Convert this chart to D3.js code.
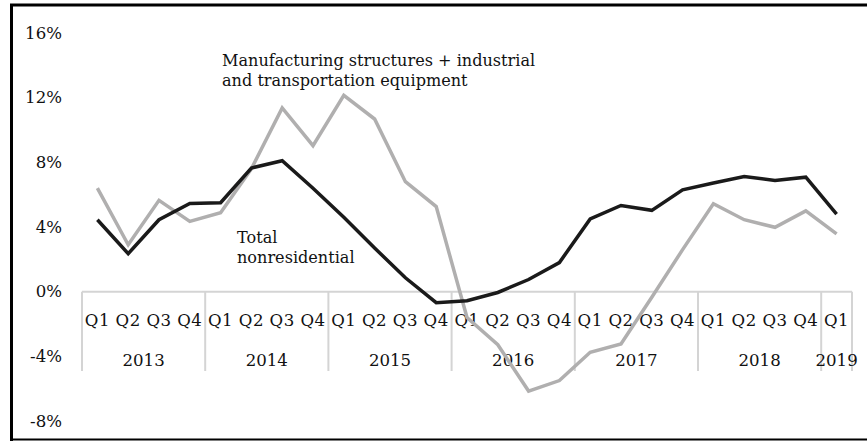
<!DOCTYPE html>
<html><head><meta charset="utf-8">
<script src="https://cdn.jsdelivr.net/npm/d3@7"></script>
<style>body{margin:0;background:#fff}svg{display:block}text{font-family:"DejaVu Serif","Liberation Serif",serif;fill:#111}</style>
</head><body><svg id="c" width="867" height="441"></svg>
<script>
const years = ["2013","2014","2015","2016","2017","2018","2019"];
const quartersPerYear = [4,4,4,4,4,4,1];
const quarterLabels = ["Q1","Q2","Q3","Q4"];
const totalNonres = [4.45,2.35,4.45,5.45,5.5,7.65,8.1,6.4,4.6,2.7,0.86,-0.68,-0.56,-0.05,0.75,1.8,4.5,5.33,5.03,6.3,6.72,7.12,6.88,7.08,4.8];
const manufEquip = [6.4,2.9,5.65,4.35,4.88,7.6,11.36,9.03,12.14,10.68,6.8,5.26,-1.6,-3.28,-6.15,-5.5,-3.75,-3.24,-0.35,2.6,5.44,4.45,3.98,5.0,3.57];
const yTicks = [-8,-4,0,4,8,12,16];

const FS = 16.6;
const FA = 16.1;
const svg = d3.select("#c");
const cats = [];
years.forEach((y,i)=>{for(let q=0;q<quartersPerYear[i];q++) cats.push({year:y,q:quarterLabels[q],key:y+quarterLabels[q]});});
const x = d3.scaleBand().domain(cats.map(d=>d.key)).range([82,852]).padding(0);
const y = d3.scaleLinear().domain([-8,16]).range([421,33]);

// border
svg.append("line").attr("x1",11.5).attr("x2",11.5).attr("y1",4).attr("y2",441).attr("stroke","#000").attr("stroke-width",3);
svg.append("line").attr("x1",10).attr("x2",867).attr("y1",5).attr("y2",5).attr("stroke","#000").attr("stroke-width",3);
svg.append("line").attr("x1",10).attr("x2",867).attr("y1",439.5).attr("y2",439.5).attr("stroke","#000").attr("stroke-width",2);

// y labels
const yAxis = svg.append("g").attr("transform","translate(62,0)")
  .call(d3.axisLeft(y).tickValues(yTicks).tickSize(0).tickPadding(0).tickFormat(d=>d+"%"));
yAxis.select(".domain").remove();
yAxis.selectAll("text").attr("font-size",FS).attr("font-family","DejaVu Serif").attr("fill","#111");

const y0 = y(0);
svg.append("line").attr("x1",x.range()[0]).attr("x2",x.range()[1]).attr("y1",y0).attr("y2",y0).attr("stroke","#d4d4d4").attr("stroke-width",2);
let idx=0; const bounds=[x(cats[0].key)];
years.forEach((yr,i)=>{idx+=quartersPerYear[i]; bounds.push(idx<cats.length? x(cats[idx].key): x.range()[1]);});
bounds.forEach(b=>svg.append("line").attr("x1",b).attr("x2",b).attr("y1",y0).attr("y2",371).attr("stroke","#d4d4d4").attr("stroke-width",2));
svg.append("g").selectAll("text").data(cats).join("text")
  .attr("x",d=>x(d.key)+x.bandwidth()/2).attr("y",326).attr("text-anchor","middle").attr("font-size",FS).attr("letter-spacing",0.5).text(d=>d.q);
svg.append("g").selectAll("text").data(years).join("text")
  .attr("x",(d,i)=>(bounds[i]+bounds[i+1])/2).attr("y",366).attr("text-anchor","middle").attr("font-size",FS).text(d=>d);

const line = d3.line().x((d,i)=>x(cats[i].key)+x.bandwidth()/2).y(d=>y(d));
svg.append("path").datum(manufEquip).attr("d",line).attr("fill","none").attr("stroke","#b0afaf").attr("stroke-width",3.5);
svg.append("path").datum(totalNonres).attr("d",line).attr("fill","none").attr("stroke","#1a1a1a").attr("stroke-width",3.5);

const a1 = svg.append("text").attr("font-size",FA);
a1.append("tspan").attr("x",222).attr("y",66).text("Manufacturing structures + industrial");
a1.append("tspan").attr("x",222).attr("y",86).text("and transportation equipment");
const a2 = svg.append("text").attr("font-size",FA);
a2.append("tspan").attr("x",237).attr("y",243).text("Total");
a2.append("tspan").attr("x",237).attr("y",263).text("nonresidential");
</script></body></html>
